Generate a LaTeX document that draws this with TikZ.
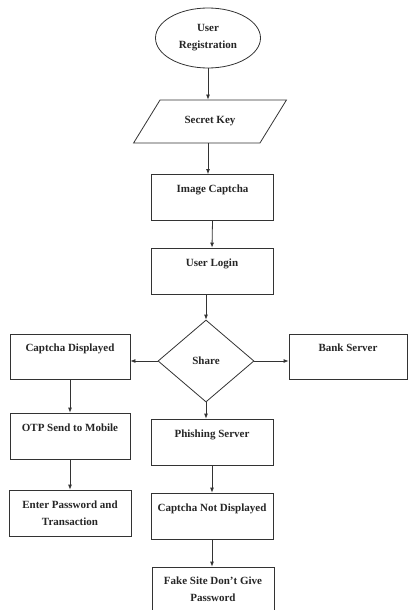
\documentclass[tikz,border=0pt]{standalone}
\usepackage{fontspec}
\setmainfont{Liberation Serif}
\usetikzlibrary{arrows.meta, positioning, shapes.geometric}

\begin{document}
\begin{tikzpicture}[x=1pt, y=-1pt,
    every node/.style={font=\fontsize{11}{17}\selectfont\bfseries, text=black!85},
    blk/.style={draw=black!80, rectangle, align=center, minimum width=122pt, minimum height=46pt, inner sep=2pt, line width=0.8pt},
    hightxt/.style={text height=8pt, text depth=18pt},
    flow/.style={draw=black!80, -{Latex[length=5pt, width=4pt]}, line width=0.8pt}
]
\useasboundingbox (0,0) rectangle (408,610);

\node[draw=black!80, ellipse, line width=0.8pt, align=center, inner sep=0pt, minimum width=105pt, minimum height=60pt] (reg) at (208,38) {User\\Registration};
\node[draw=black!80, trapezium, trapezium left angle=47, trapezium right angle=133, trapezium stretches=true, line width=0.8pt, minimum width=154pt, minimum height=43pt] (key) at (210,121.5) {Secret Key};
\node[blk, hightxt] (img)   at (212.5,197.5) {Image Captcha};
\node[blk, hightxt] (login) at (212,271) {User Login};
\node[draw=black!80, diamond, line width=0.8pt, inner sep=0pt, minimum width=96pt, minimum height=82pt] (share) at (206,361) {Share};
\node[blk, hightxt, minimum width=120pt, minimum height=45pt] (disp) at (70,356.5) {Captcha Displayed};
\node[blk, hightxt, minimum width=118pt, minimum height=45pt] (bank) at (348,356.5) {Bank Server};
\node[blk, hightxt, minimum width=120pt] (otp)   at (70,436) {OTP Send to Mobile};
\node[blk, hightxt] (phish) at (212,442) {Phishing Server};
\node[blk] (pass) at (70,513) {Enter Password and\\Transaction};
\node[blk, hightxt] (nodisp) at (212,516) {Captcha Not Displayed};
\node[blk, minimum height=44pt] (fake) at (213,589) {Fake Site Don’t Give\\Password};

\draw[flow] (reg.south) -- (reg.south |- key.north);
\draw[flow] (reg.south |- key.south) -- (reg.south |- img.north);
\draw[flow] (img.south) -- (login.north);
\draw[flow] (share.north |- login.south) -- (share.north);
\draw[flow] (share.west) -- (disp.east |- share.west);
\draw[flow] (share.east) -- (bank.west |- share.east);
\draw[flow] (disp.south) -- (otp.north);
\draw[flow] (share.south) -- (share.south |- phish.north);
\draw[flow] (otp.south) -- (pass.north);
\draw[flow] (phish.south) -- (nodisp.north);
\draw[flow] (nodisp.south) -- (nodisp.south |- fake.north);
\end{tikzpicture}
\end{document}
